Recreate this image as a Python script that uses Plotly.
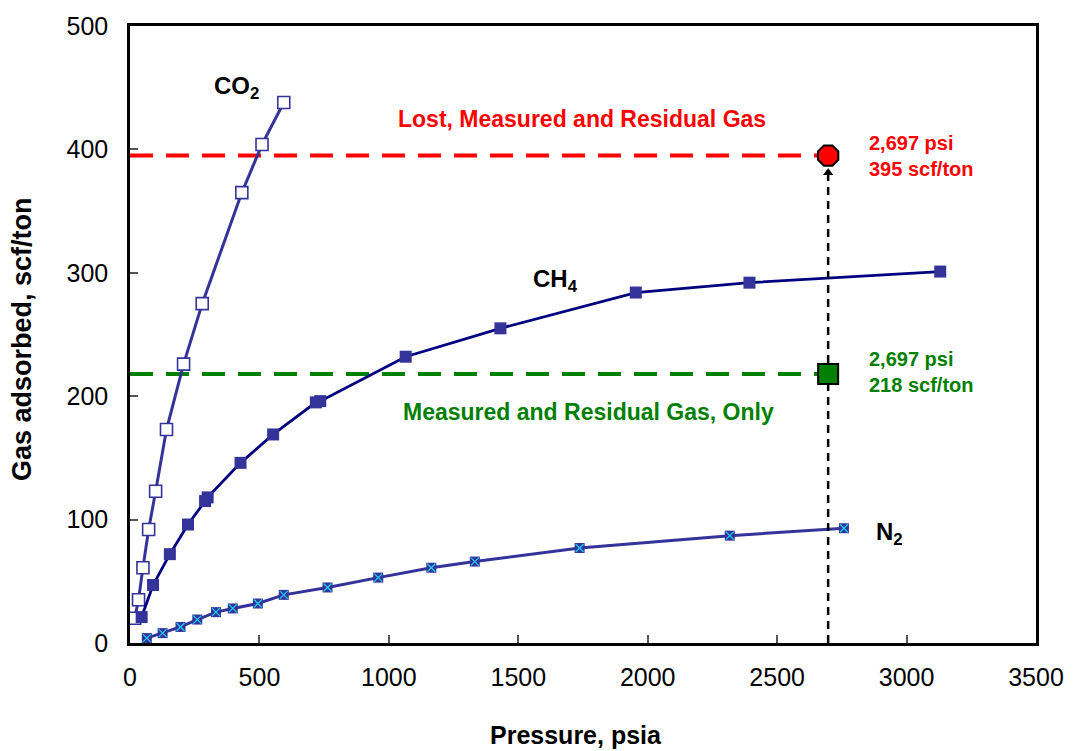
import plotly.graph_objects as go

# Adsorption isotherms: pressure (psia) vs gas adsorbed (scf/ton)
co2_p = [18, 33, 50, 72, 99, 141, 207, 279, 432, 510, 594]
co2_v = [20, 35, 61, 92, 123, 173, 226, 275, 365, 404, 438]

ch4_p = [45, 89, 154, 224, 290, 300, 427, 553, 718, 735, 1065, 1431, 1954, 2393, 3130]
ch4_v = [21, 47, 72, 96, 115, 118, 146, 169, 195, 196, 232, 255, 284, 292, 301]

n2_p = [65, 126, 195, 260, 332, 397, 494, 594, 763, 959, 1164, 1332, 1737, 2317, 2758]
n2_v = [4, 8, 13, 19, 25, 28, 32, 39, 45, 53, 61, 66, 77, 87, 93]

# Reservoir pressure and the two gas-content levels
res_p = 2697
lost_total = 395
measured_only = 218

x_ticks = [0, 500, 1000, 1500, 2000, 2500, 3000, 3500]
y_ticks = [0, 100, 200, 300, 400, 500]

FONT = "Liberation Sans, Arial, sans-serif"
BLUE = "#333399"
NAVY = "#000080"
RED = "#ff0000"
GREEN = "#008000"

fig = go.Figure()

# Horizontal gas-content levels
fig.add_trace(go.Scatter(x=[0, res_p], y=[lost_total, lost_total], mode="lines",
                         line=dict(color=RED, width=4, dash="23px,13px"),
                         hoverinfo="skip", showlegend=False))
fig.add_trace(go.Scatter(x=[0, res_p], y=[measured_only, measured_only], mode="lines",
                         line=dict(color=GREEN, width=4, dash="23px,13px"),
                         hoverinfo="skip", showlegend=False))

# CO2 isotherm (open squares)
fig.add_trace(go.Scatter(x=co2_p, y=co2_v, mode="lines+markers",
                         line=dict(color=BLUE, width=3),
                         marker=dict(symbol="square", size=12, color="white",
                                     line=dict(color=BLUE, width=1.6)),
                         showlegend=False))

# CH4 isotherm (filled squares)
fig.add_trace(go.Scatter(x=ch4_p, y=ch4_v, mode="lines+markers",
                         line=dict(color=NAVY, width=2.8),
                         marker=dict(symbol="square", size=12, color=BLUE,
                                     line=dict(width=0)),
                         showlegend=False))

# N2 isotherm (square with star)
fig.add_trace(go.Scatter(x=n2_p, y=n2_v, mode="lines+markers",
                         line=dict(color=BLUE, width=3),
                         marker=dict(symbol="square", size=10, color=BLUE,
                                     line=dict(width=0)),
                         showlegend=False))
fig.add_trace(go.Scatter(x=n2_p, y=n2_v, mode="markers",
                         marker=dict(symbol="x-thin-open", size=8,
                                     line=dict(color="white", width=1.2)),
                         hoverinfo="skip", showlegend=False))

# Vertical dashed arrow at reservoir pressure
fig.add_trace(go.Scatter(x=[res_p, res_p], y=[0, 380], mode="lines",
                         line=dict(color="black", width=2.5, dash="8px,6px"),
                         hoverinfo="skip", showlegend=False))
fig.add_trace(go.Scatter(x=[res_p], y=[381], mode="markers",
                         marker=dict(symbol="triangle-up", size=9, color="black"),
                         hoverinfo="skip", showlegend=False))

# Reservoir-pressure points
fig.add_trace(go.Scatter(x=[res_p], y=[lost_total], mode="markers",
                         marker=dict(symbol="octagon", size=22, color=RED,
                                     line=dict(color="black", width=2)),
                         showlegend=False))
fig.add_trace(go.Scatter(x=[res_p], y=[measured_only], mode="markers",
                         marker=dict(symbol="square", size=20, color=GREEN,
                                     line=dict(color="black", width=2)),
                         showlegend=False))

annotations = [
    dict(x=412, y=450, text="CO<sub>2</sub>", font=dict(size=24, color="black")),
    dict(x=1645, y=294, text="CH<sub>4</sub>", font=dict(size=24, color="black")),
    dict(x=2935, y=89, text="N<sub>2</sub>", font=dict(size=24, color="black")),
    dict(x=1745, y=425, text="Lost, Measured and Residual Gas",
         font=dict(size=23, color=RED)),
    dict(x=1772, y=187, text="Measured and Residual Gas, Only",
         font=dict(size=23, color=GREEN)),
    dict(x=2847, y=395, text="%s psi<br>%d scf/ton" % (f"{res_p:,}", lost_total),
         font=dict(size=20, color=RED), xanchor="left", align="left"),
    dict(x=2847, y=220, text="%s psi<br>%d scf/ton" % (f"{res_p:,}", measured_only),
         font=dict(size=20, color=GREEN), xanchor="left", align="left"),
]
for a in annotations:
    a.setdefault("xanchor", "center")
    a["font"]["family"] = FONT
    a["text"] = "<b>" + a["text"] + "</b>"
    fig.add_annotation(showarrow=False, xref="x", yref="y", **a)

W, H = 1076, 751
L, R, T, B = 130, 30, 16, 108
pw, ph = W - L - R, H - T - B


def px_to_paper(px, py):
    # pixel position on the page -> paper fraction of the plot area
    return (px - L) / pw, (H - B - py) / ph


# Axis titles
tx, ty = px_to_paper(581, 736)
fig.add_annotation(x=tx, y=ty, xref="paper", yref="paper", showarrow=False,
                   xanchor="center", yanchor="middle",
                   text="<b>Pressure, psia</b>", font=dict(size=25, family=FONT, color="black"))
tx, ty = px_to_paper(21, 334)
fig.add_annotation(x=tx, y=ty, xref="paper", yref="paper", showarrow=False,
                   xanchor="center", yanchor="middle",
                   text="<b>Gas adsorbed, scf/ton</b>", textangle=-90,
                   font=dict(size=27, family=FONT, color="black"))

axis_common = dict(showgrid=False, zeroline=False, showline=True, linecolor="black",
                   linewidth=2.5, mirror=True, ticks="inside", ticklen=8,
                   tickwidth=1.5, tickcolor="#555555",
                   tickfont=dict(size=25, family=FONT, color="black"))
fig.update_xaxes(range=[0, 3500], tickvals=x_ticks, ticklabelstandoff=10, **axis_common)
fig.update_yaxes(range=[0, 500], tickvals=y_ticks, ticklabelstandoff=14, **axis_common)

fig.update_layout(width=W, height=H, margin=dict(l=L, r=R, t=T, b=B),
                  paper_bgcolor="white", plot_bgcolor="white",
                  font=dict(family=FONT))

fig.write_html("out.html")
